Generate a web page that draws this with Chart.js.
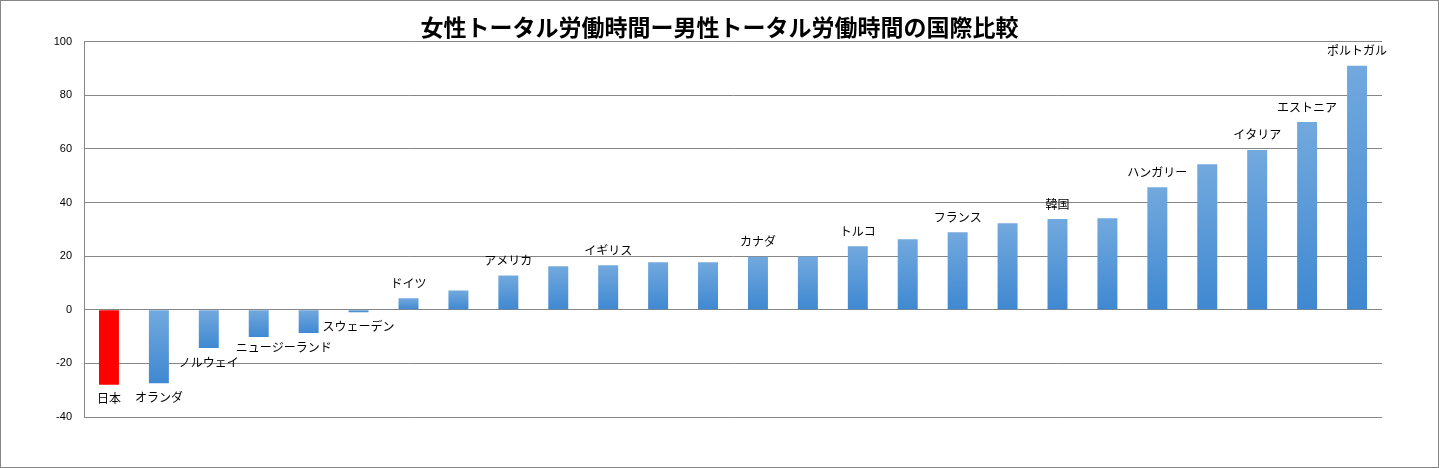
<!DOCTYPE html>
<html>
<head>
<meta charset="utf-8">
<script src="https://cdn.jsdelivr.net/npm/chart.js@4"></script>
<style>
    body { margin: 0; background: #fff; }
    #wrap { width: 1439px; height: 468px; position: relative; }
</style>
</head>
<body>
<div id="wrap"><canvas id="gapChart"></canvas></div>
<script>
// 女性−男性 トータル労働時間の差（分/日）
var countries = ['日本', 'オランダ', 'ノルウェイ', '', 'ニュージーランド', 'スウェーデン', 'ドイツ', '',
    'アメリカ', '', 'イギリス', '', '', 'カナダ', '', 'トルコ', '', 'フランス', '',
    '韓国', '', 'ハンガリー', '', 'イタリア', 'エストニア', 'ポルトガル'];
var gapValues = [-28.0, -27.4, -14.3, -10.2, -8.7, -0.9, 4.3, 7.2,
    12.8, 16.2, 16.6, 17.7, 17.7, 19.8, 19.9, 23.7, 26.3, 28.9, 32.3,
    33.8, 34.1, 45.7, 54.3, 59.6, 70.0, 91.0];
var yTicks = [100, 80, 60, 40, 20, 0, -20, -40];
var titleText = '女性トータル労働時間ー男性トータル労働時間の国際比較';

var gridColor = '#868686';

// 背景と外枠
var framePlugin = {
    id: 'frame',
    beforeDraw: function (chart) {
        var c = chart.ctx;
        c.save();
        c.fillStyle = '#ffffff';
        c.fillRect(0, 0, chart.width, chart.height);
        c.strokeStyle = gridColor;
        c.lineWidth = 1;
        c.strokeRect(0.5, 0.5, chart.width - 1, chart.height - 1);
        c.restore();
    }
};

// 棒ごとのグラデーション（日本は赤）
function barColor(context) {
    var i = context.dataIndex;
    if (countries[i] === '日本') return '#ff0000';
    var chart = context.chart;
    var y = chart.scales && chart.scales.y;
    if (!y || i === undefined) return '#4a90d6';
    var p1 = y.getPixelForValue(gapValues[i]);
    var p0 = y.getPixelForValue(0);
    var top = Math.min(p0, p1), bottom = Math.max(p0, p1);
    if (bottom - top < 1) bottom = top + 1;
    var g = chart.ctx.createLinearGradient(0, top, 0, bottom);
    g.addColorStop(0, '#72a9de');
    g.addColorStop(1, '#3f88d1');
    return g;
}

// 国名ラベル（手で位置をずらしたものは labelShift）
var labelShift = { 4: -25 };
var countryLabelPlugin = {
    id: 'countryLabels',
    afterDatasetsDraw: function (chart) {
        var c = chart.ctx;
        var meta = chart.getDatasetMeta(0);
        c.save();
        c.font = '12px "Noto Sans CJK JP"';
        c.fillStyle = '#000';
        c.textAlign = 'center';
        c.textBaseline = 'middle';
        meta.data.forEach(function (bar, i) {
            var name = countries[i];
            if (!name) return;
            var dx = labelShift[i] || 0;
            var y = gapValues[i] >= 0 ? bar.y - 15 : bar.y + 14;
            c.fillText(name, bar.x + dx, y);
        });
        c.restore();
    }
};

var ctx = document.getElementById('gapChart').getContext('2d');
var gapChart = new Chart(ctx, {
    type: 'bar',
    data: {
        labels: countries,
        datasets: [{
            label: '女性−男性',
            data: gapValues,
            backgroundColor: barColor,
            borderWidth: 0,
            categoryPercentage: 1.0,
            barPercentage: 0.4
        }]
    },
    options: {
        responsive: true,
        maintainAspectRatio: false,
        animation: false,
        devicePixelRatio: 1,
        layout: { padding: { top: 0, right: 0, bottom: 51, left: 0 } },
        plugins: {
            legend: { display: false },
            tooltip: { enabled: false },
            title: {
                display: true,
                text: titleText,
                color: '#000',
                font: { family: '"Noto Sans CJK JP"', size: 23, weight: 'bold', lineHeight: 1.2 },
                padding: { top: 13, bottom: 1 }
            }
        },
        scales: {
            x: { display: false },
            y: {
                min: -40,
                max: 100,
                afterFit: function (scale) { scale.width = 84; },
                afterBuildTicks: function (scale) {
                    scale.ticks = yTicks.map(function (v) { return { value: v }; });
                },
                grid: { color: gridColor, drawTicks: false, lineWidth: 1 },
                border: { display: true, color: gridColor },
                ticks: {
                    padding: 12,
                    color: '#000',
                    font: { family: '"Liberation Sans", Arial', size: 11 }
                }
            },
            // 右側の余白用（何も描かない）
            yRight: {
                position: 'right',
                min: -40,
                max: 100,
                afterFit: function (scale) { scale.width = 57; },
                grid: { display: false },
                border: { display: false },
                ticks: { display: false }
            }
        }
    },
    plugins: [framePlugin, countryLabelPlugin]
});
</script>
</body>
</html>
